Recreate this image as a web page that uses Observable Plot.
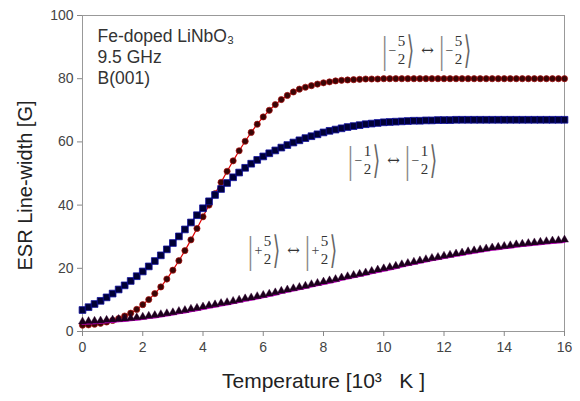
<!DOCTYPE html>
<html><head><meta charset="utf-8">
<script src="https://cdn.jsdelivr.net/npm/d3@7"></script>
<script src="https://cdn.jsdelivr.net/npm/@observablehq/plot@0.6"></script>
<style>body{margin:0;background:#fff}</style>
</head><body><div id="chart"></div>
<script>
// Temperature [10^3 K]
const temperature = [0,0.2,0.4,0.6,0.8,1,1.2,1.4,1.6,1.8,2,2.2,2.4,2.6,2.8,3,3.2,3.4,3.6,3.8,4,4.2,4.4,4.6,4.8,5,5.2,5.4,5.6,5.8,6,6.2,6.4,6.6,6.8,7,7.2,7.4,7.6,7.8,8,8.2,8.4,8.6,8.8,9,9.2,9.4,9.6,9.8,10,10.2,10.4,10.6,10.8,11,11.2,11.4,11.6,11.8,12,12.2,12.4,12.6,12.8,13,13.2,13.4,13.6,13.8,14,14.2,14.4,14.6,14.8,15,15.2,15.4,15.6,15.8,16];
// |-5/2> <-> |-5/2>  (red circles)
const widthM52 = [2.0,2.1,2.3,2.6,3.0,3.5,4.1,4.9,5.8,7.0,8.5,10.1,12.0,14.1,16.6,19.4,22.4,25.6,29.0,32.6,36.3,40.0,43.6,47.2,50.7,54.0,57.2,60.2,63.0,65.6,67.9,70.0,71.8,73.4,74.7,75.8,76.7,77.3,77.8,78.3,78.7,79.0,79.3,79.5,79.6,79.7,79.8,79.9,79.9,79.9,80,80,80,80,80,80,80,80,80,80,80,80,80,80,80,80,80,80,80,80,80,80,80,80,80,80,80,80,80,80,80];
// |-1/2> <-> |-1/2>  (blue squares)
const widthM12 = [6.8,7.7,8.7,9.7,10.8,12.0,13.3,14.6,16.0,17.5,19.0,20.6,22.3,24.1,26.0,28.0,30.1,32.3,34.5,36.8,39.0,41.2,43.2,45.1,47.0,48.8,50.3,51.8,53.1,54.3,55.4,56.4,57.3,58.2,59.0,59.8,60.5,61.2,61.8,62.4,63.0,63.5,63.9,64.3,64.7,65.0,65.3,65.6,65.8,66.0,66.2,66.3,66.4,66.5,66.6,66.7,66.7,66.8,66.8,66.9,66.9,66.9,67,67,67,67,67,67,67,67,67,67,67,67,67,67,67,67,67,67,67];
// |+5/2> <-> |+5/2>  (triangles)
const widthP52 = [2.5,2.6,2.7,2.8,3.0,3.1,3.3,3.4,3.6,3.8,4.0,4.3,4.5,4.8,5.1,5.4,5.8,6.1,6.5,6.8,7.2,7.6,7.9,8.3,8.6,9.0,9.4,9.8,10.1,10.5,10.9,11.3,11.7,12.2,12.6,13.0,13.4,13.8,14.3,14.7,15.1,15.5,15.9,16.4,16.8,17.2,17.6,18.0,18.5,18.9,19.3,19.7,20.1,20.6,21.0,21.4,21.8,22.2,22.6,22.9,23.3,23.6,24.0,24.3,24.7,25.0,25.3,25.6,25.9,26.1,26.4,26.6,26.9,27.1,27.3,27.5,27.7,27.9,28.1,28.2,28.4];

const xTicks = [0,2,4,6,8,10,12,14,16];
const yTicks = [0,20,40,60,80,100];
const infoLines = ["Fe-doped LiNbO₃", "9.5 GHz", "B(001)"];
const xTitle = "Temperature [10³   K ]";
const yTitle = "ESR Line-width [G]";
const transSigns = ["−", "−", "+"];
const transNums = ["5", "1", "5"];
const transDens = ["2", "2", "2"];

const rows = (ys) => temperature.map((t, i) => ({t, w: ys[i]}));
const red = rows(widthM52), blue = rows(widthM12), mag = rows(widthP52);

const serif = "'Liberation Serif', 'Times New Roman', serif";
const mathSerif = "'DejaVu Serif', 'Liberation Serif', serif";

// label anchor positions (data coords: left edge, vertical centre)
const labelPos = [[9.96, 88.9], [8.83, 54.1], [5.51, 25.6]];

function braket(i) {
  const d = [{x: labelPos[i][0], y: labelPos[i][1]}];
  const c = {x: "x", y: "y", textAnchor: "middle", lineAnchor: "middle", fill: "#333"};
  const marks = [];
  for (const off of [0, 57]) {
    marks.push(Plot.text(d, {...c, text: () => "|", dx: off + 2, fontSize: 38, fontFamily: serif, fill: "#888"}));
    marks.push(Plot.text(d, {...c, text: () => transSigns[i], dx: off + 10, dy: 0, fontSize: 14, fontFamily: serif, fill: "#444"}));
    marks.push(Plot.text(d, {...c, text: () => transNums[i], dx: off + 19, dy: -9, fontSize: 15, fontFamily: serif}));
    marks.push(Plot.text(d, {...c, text: () => transDens[i], dx: off + 19, dy: 9, fontSize: 15, fontFamily: serif}));
    marks.push(Plot.text(d, {...c, text: () => "⟩", dx: off + 28, fontSize: 38, fontFamily: mathSerif, fill: "#666"}));
  }
  marks.push(Plot.text(d, {...c, text: () => "↔", dx: 45, fontSize: 15, fontFamily: mathSerif}));
  return marks;
}

const chart = Plot.plot({
  width: 580,
  height: 401,
  marginLeft: 82,
  marginRight: 16,
  marginTop: 15,
  marginBottom: 70,
  style: {fontFamily: "'Liberation Sans', Arial, sans-serif", fontSize: "14px", background: "#fff", color: "#333"},
  x: {domain: [0, 16]},
  y: {domain: [0, 100]},
  marks: [
    Plot.frame({stroke: "#999"}),
    Plot.axisX({ticks: xTicks, tickSize: 5, tickPadding: 6, label: null, stroke: "#888", fill: "#444", fontSize: 14}),
    Plot.axisY({ticks: yTicks, tickSize: 5, tickPadding: 4, label: null, stroke: "#888", fill: "#444", fontSize: 14}),
    Plot.text([xTitle], {frameAnchor: "bottom", dy: 50, lineAnchor: "middle", textAnchor: "middle", fontSize: 21, fill: "#222"}),
    Plot.text([yTitle], {frameAnchor: "left", dx: -57, dy: 12, rotate: -90, textAnchor: "middle", lineAnchor: "middle", fontSize: 20, fill: "#222"}),
    Plot.text([infoLines.join("\n")], {frameAnchor: "top-left", dx: 15, dy: 11, lineAnchor: "top", textAnchor: "start", fontSize: 17.5, lineHeight: 1.22, fill: "#333"}),
    // red circles
    Plot.line(red, {x: "t", y: "w", stroke: "#e00000", strokeWidth: 1.2}),
    Plot.dot(red, {x: "t", y: "w", r: 3.1, fill: "#3a0505", stroke: "#b01010", strokeWidth: 0.7}),
    // blue squares
    Plot.line(blue, {x: "t", y: "w", stroke: "#0000c0", strokeWidth: 1.2}),
    Plot.dot(blue, {x: "t", y: "w", symbol: "square", r: 3.8, fill: "#000035", stroke: "#1010a0", strokeWidth: 0.8}),
    // magenta triangles
    Plot.line(mag, {x: "t", y: "w", stroke: "#d000d0", strokeWidth: 2.4}),
    Plot.dot(mag, {x: "t", y: "w", symbol: "triangle", r: 3.0, dy: -2, fill: "#1a001a", stroke: "#3a003a", strokeWidth: 0.4}),
    ...braket(0), ...braket(1), ...braket(2)
  ]
});

// narrow the tall delimiters (bra-ket bars and angle brackets)
chart.querySelectorAll("text").forEach((el) => {
  const s = el.textContent;
  if (s !== "⟩" && s !== "|") return;
  const k = s === "⟩" ? 0.5 : 0.7;
  const t = el.getAttribute("transform");
  if (t) el.setAttribute("transform", t + ` scale(${k},1)`);
});
document.getElementById("chart").appendChild(chart);
</script>
</body></html>
